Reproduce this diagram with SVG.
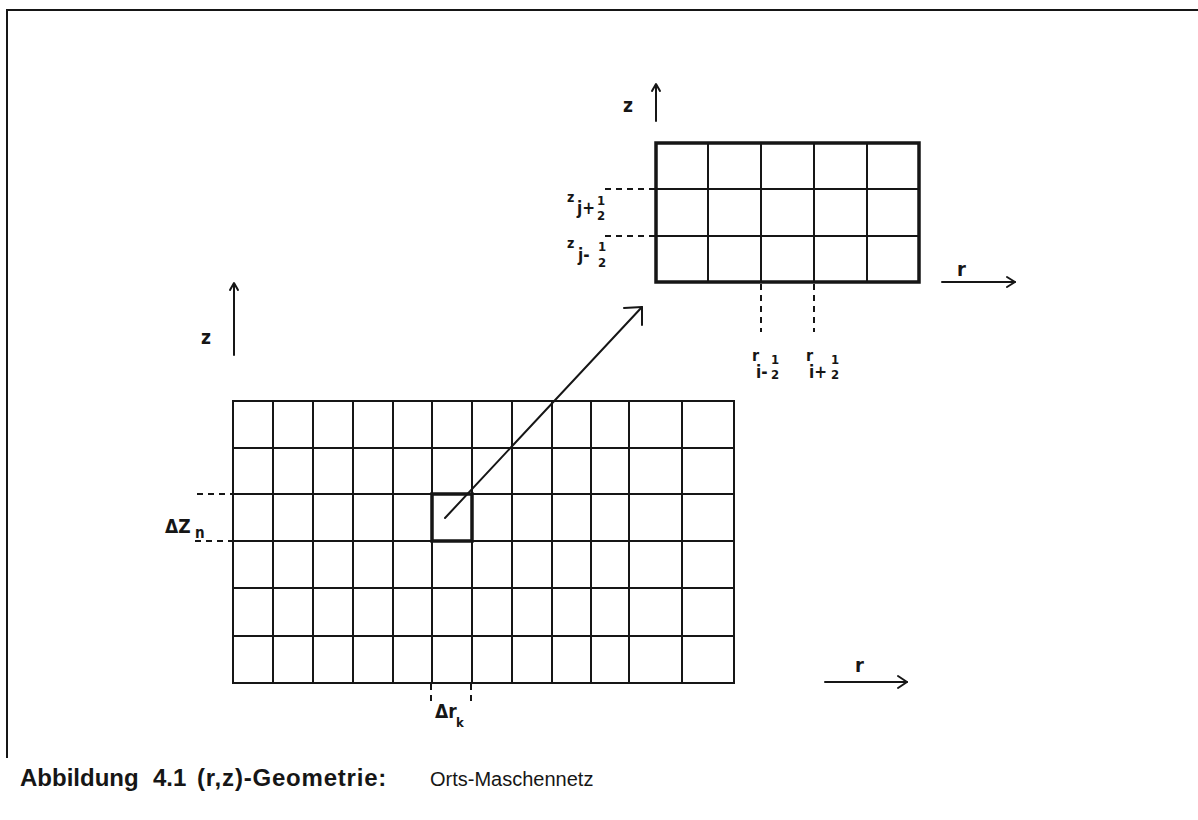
<svg xmlns="http://www.w3.org/2000/svg" width="1198" height="820" viewBox="0 0 1198 820">
<style>
.ln{stroke:#161616;stroke-width:2;fill:none;stroke-linecap:square}
.thick{stroke:#161616;stroke-width:3.5;fill:none}
.dash{stroke:#161616;stroke-width:2;fill:none;stroke-dasharray:6 5}
.arr{stroke:#161616;stroke-width:2;fill:none;stroke-linecap:round;stroke-linejoin:round}
.hand{font-family:'DejaVu Sans Condensed','Liberation Sans Narrow','Liberation Sans',sans-serif;font-weight:bold;fill:#161616}
.cap{font-family:'Liberation Sans',Arial,sans-serif;fill:#161616;font-size:20px}
.capb{font-family:'Liberation Sans',Arial,sans-serif;fill:#161616;font-size:24px;font-weight:bold}
</style>
<rect width="1198" height="820" fill="#ffffff"/>
<g id="frame">
<polyline class="ln" points="7,757 7,10 1198,10" stroke-width="2.5"/>
</g>
<g id="fine-grid">
<rect class="thick" x="656" y="143" width="263" height="139"/>
<path class="ln" d="M708,143V282M761,143V282M814,143V282M867,143V282M656,189H919M656,236H919"/>
</g>
<g id="coarse-grid">
<path class="ln" d="M233,401H734V683H233Z"/>
<path class="ln" d="M273,401V683M313,401V683M353,401V683M393,401V683M432,401V683M472,401V683M512,401V683M552,401V683M591,401V683M629,401V683M682,401V683"/>
<path class="ln" d="M233,448H734M233,494H734M233,541H734M233,588H734M233,636H734"/>
<rect x="432" y="494" width="40" height="47" fill="none" stroke="#161616" stroke-width="3.5"/>
</g>
<g id="connectors">
<line class="arr" x1="445" y1="518" x2="642" y2="307"/>
<polyline class="arr" points="624,308 642,307 642,325"/>
<line class="dash" x1="605" y1="189" x2="656" y2="189"/>
<line class="dash" x1="605" y1="236" x2="656" y2="236"/>
<line class="dash" x1="761" y1="284" x2="761" y2="332"/>
<line class="dash" x1="814" y1="284" x2="814" y2="332"/>
<line class="dash" x1="197" y1="494" x2="233" y2="494"/>
<line class="dash" x1="195" y1="541" x2="233" y2="541"/>
<line class="dash" x1="431" y1="684" x2="431" y2="706"/>
<line class="dash" x1="471" y1="684" x2="471" y2="706"/>
</g>
<g id="axis-top-z">
<line class="arr" x1="656" y1="85" x2="656" y2="121"/>
<polyline class="arr" points="652,91 656,84 660,91"/>
<text class="hand" x="623" y="112" font-size="19">z</text>
</g>
<g id="axis-top-r">
<line class="arr" x1="942" y1="282" x2="1015" y2="282"/>
<polyline class="arr" points="1007,277 1015,282 1007,287"/>
<text class="hand" x="957" y="276" font-size="20">r</text>
</g>
<g id="axis-left-z">
<line class="arr" x1="234" y1="284" x2="234" y2="355"/>
<polyline class="arr" points="230,290 234,283 238,290"/>
<text class="hand" x="201" y="344" font-size="19">z</text>
</g>
<g id="axis-bottom-r">
<line class="arr" x1="825" y1="682" x2="907" y2="682"/>
<polyline class="arr" points="898,676 907,682 898,688"/>
<text class="hand" x="855" y="672" font-size="20">r</text>
</g>
<g id="label-zj-plus">
<text class="hand" x="567" y="202" font-size="14">z</text>
<text class="hand" x="577" y="214" font-size="17">j+</text>
<text class="hand" x="597" y="205" font-size="13">1</text>
<text class="hand" x="597" y="220" font-size="13">2</text>
</g>
<g id="label-zj-minus">
<text class="hand" x="567" y="248" font-size="14">z</text>
<text class="hand" x="578" y="261" font-size="17">j-</text>
<text class="hand" x="598" y="251" font-size="13">1</text>
<text class="hand" x="598" y="267" font-size="13">2</text>
</g>
<g id="label-ri-minus">
<text class="hand" x="752" y="361" font-size="16">r</text>
<text class="hand" x="756" y="378" font-size="17">i-</text>
<text class="hand" x="771" y="364" font-size="13">1</text>
<text class="hand" x="771" y="379" font-size="13">2</text>
</g>
<g id="label-ri-plus">
<text class="hand" x="806" y="361" font-size="16">r</text>
<text class="hand" x="809" y="378" font-size="17">i+</text>
<text class="hand" x="831" y="364" font-size="13">1</text>
<text class="hand" x="831" y="379" font-size="13">2</text>
</g>
<g id="label-dz">
<text class="hand" x="165" y="533" font-size="19">ΔZ</text>
<text class="hand" x="195" y="538" font-size="15">n</text>
</g>
<g id="label-dr">
<text class="hand" x="435" y="718" font-size="19">Δr</text>
<text class="hand" x="456" y="727" font-size="13">k</text>
</g>
<g id="caption">
<text class="capb" x="20" y="786">Abbildung</text>
<text class="capb" x="153" y="786" font-size="21">4.1</text>
<text class="capb" x="197" y="786" letter-spacing="0.8">(r,z)-Geometrie:</text>
<text class="cap" x="430" y="786">Orts-Maschennetz</text>
</g>
</svg>
